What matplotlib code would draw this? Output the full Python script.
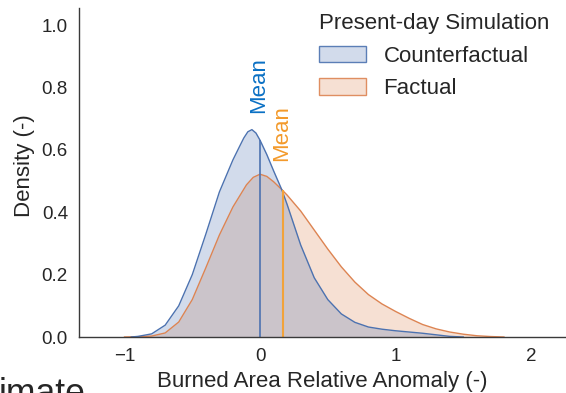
import matplotlib
matplotlib.use("Agg")
import matplotlib.pyplot as plt
import numpy as np
from matplotlib.patches import Patch
from matplotlib.colors import to_rgba

# ---- data ----
cf_x = [-0.95, -0.90, -0.80, -0.70, -0.60, -0.50, -0.40, -0.30, -0.20, -0.15, -0.12,
        -0.09, -0.06, -0.03, 0.00, 0.05, 0.10, 0.16, 0.20, 0.30, 0.40, 0.50, 0.60, 0.70,
        0.80, 0.90, 1.00, 1.10, 1.20, 1.30, 1.40, 1.50]
cf_y = [0.000, 0.002, 0.010, 0.038, 0.100, 0.200, 0.330, 0.465, 0.568, 0.612, 0.638,
        0.658, 0.665, 0.654, 0.631, 0.585, 0.533, 0.473, 0.425, 0.295, 0.190, 0.120, 0.074, 0.047,
        0.032, 0.025, 0.020, 0.016, 0.012, 0.007, 0.002, 0.000]

f_x = [-1.00, -0.90, -0.80, -0.70, -0.60, -0.50, -0.40, -0.30, -0.20, -0.10, -0.05,
       0.00, 0.05, 0.10, 0.16, 0.20, 0.30, 0.40, 0.50, 0.60, 0.70, 0.80, 0.90,
       1.00, 1.10, 1.20, 1.30, 1.40, 1.50, 1.60, 1.70, 1.80]
f_y = [0.000, 0.001, 0.003, 0.013, 0.048, 0.120, 0.222, 0.327, 0.417, 0.488, 0.512,
       0.522, 0.515, 0.498, 0.473, 0.455, 0.404, 0.343, 0.282, 0.225, 0.176, 0.136, 0.106,
       0.082, 0.060, 0.040, 0.026, 0.016, 0.009, 0.004, 0.0015, 0.000]

cf_mean = 0.0
f_mean = 0.167

series_labels = ["Counterfactual", "Factual"]
legend_title = "Present-day Simulation"
x_ticks = [-1, 0, 1, 2]
y_ticks = [0.0, 0.2, 0.4, 0.6, 0.8, 1.0]

# ---- style ----
plt.rcParams['font.family'] = ['Liberation Sans', 'DejaVu Sans']
text_col = "#262626"
blue = "#4C72B0"
orange = "#DD8452"
blue_txt = "#0A70C4"
orange_txt = "#F39A2B"
orange_mean_line = "#F2A33A"

W, H = 566, 393
fig = plt.figure(figsize=(W / 100, H / 100), dpi=100)
ax_l, ax_r, ax_t, ax_b = 79, 566, 8, 337
ax = fig.add_axes([ax_l / W, (H - ax_b) / H, (ax_r - ax_l) / W, (ax_b - ax_t) / H])

# factual first, counterfactual drawn on top
ax.fill_between(f_x, f_y, color=orange, alpha=0.25, lw=0)
ax.fill_between(cf_x, cf_y, color=blue, alpha=0.25, lw=0)
ax.plot(f_x, f_y, color=orange, lw=1.0)
ax.plot(cf_x, cf_y, color=blue, lw=1.0)

# mean lines
cf_h = np.interp(cf_mean, cf_x, cf_y)
f_h = np.interp(f_mean, f_x, f_y)
ax.vlines(cf_mean, 0, cf_h, color=blue, lw=1.2)
ax.vlines(f_mean, 0, f_h, color=orange_mean_line, lw=1.5)
ax.text(cf_mean - 0.012, cf_h + 0.087, "Mean", rotation=90, ha="center", va="bottom",
        color=blue_txt, fontsize=16)
ax.text(f_mean - 0.008, f_h + 0.095, "Mean", rotation=90, ha="center", va="bottom",
        color=orange_txt, fontsize=16)

ax.set_xlim(-1.336, 2.258)
ax.set_ylim(0, 1.055)
ax.set_xticks(x_ticks)
ax.set_xticklabels(["\u22121", "0", "1", "2"])
ax.set_yticks(y_ticks)
ax.set_yticklabels([f"{v:.1f}" for v in y_ticks])
ax.tick_params(length=0, pad=8, labelsize=13.5, labelcolor=text_col)
for s in ["top", "right"]:
    ax.spines[s].set_visible(False)
for s in ["left", "bottom"]:
    ax.spines[s].set_color("#3a3a3a")
    ax.spines[s].set_linewidth(1.0)

ax.set_xlabel("Burned Area Relative Anomaly (-)", fontsize=16, color=text_col, labelpad=4)
ax.set_ylabel("Density (-)", fontsize=16, color=text_col)
ax.yaxis.set_label_coords((35 - ax_l) / (ax_r - ax_l), (ax_b - 166) / (ax_b - ax_t))

handles = [Patch(facecolor=to_rgba(blue, 0.25), edgecolor=to_rgba(blue, 0.9), lw=1.0),
           Patch(facecolor=to_rgba(orange, 0.25), edgecolor=to_rgba(orange, 0.9), lw=1.0)]
leg = ax.legend(handles, series_labels, title=legend_title, fontsize=16, title_fontsize=16,
                frameon=False, loc="upper left", bbox_to_anchor=(319 / W, 1 - 13 / H),
                bbox_transform=fig.transFigure, borderpad=0, borderaxespad=0,
                handlelength=2.1, handleheight=0.78, handletextpad=0.8, labelspacing=0.52)
leg._legend_box.align = "left"
for t in leg.get_texts():
    t.set_color(text_col)
leg.get_title().set_color(text_col)

# fragment of neighbouring panel text (cut by the lower edge, as in the reference)
fig.text(-0.002, -11.5 / H, "imate", fontsize=25.6, va="baseline", ha="left", color=text_col)

fig.savefig("out.png", dpi=100)
